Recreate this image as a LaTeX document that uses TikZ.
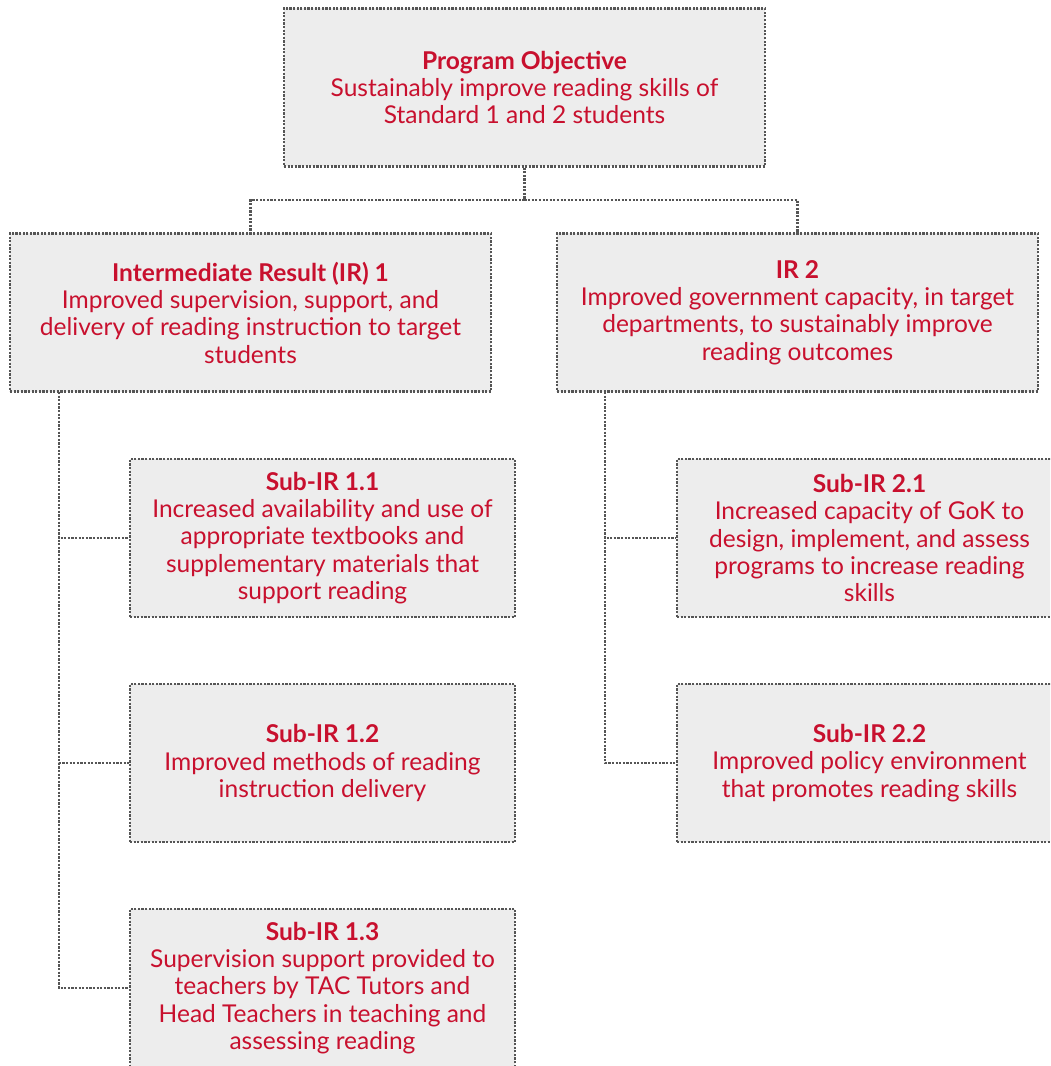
\documentclass[tikz,border=0pt]{standalone}
\usepackage{fontspec}
\setmainfont{Lato}
\usepackage{tikz}
\usetikzlibrary{positioning}
\definecolor{irred}{RGB}{200,16,46}
\definecolor{irfill}{RGB}{237,237,237}
\definecolor{irline}{RGB}{85,85,85}
\tikzset{%
    dots/.style={%
        draw=irline, line width=1.7pt, dash pattern=on 1.6pt off 1.1pt
    },
    irbox/.style={%
        dots, fill=irfill, text=irred, align=center, inner sep=0pt,
        font=\fontsize{18.4}{20.5}\selectfont,
        minimum width=360.75pt, minimum height=118.5pt
    },
    subbox/.style={%
        irbox, minimum width=288.75pt
    }
}

\begin{document}
\begin{tikzpicture}[x=0.75pt, y=-0.75pt]
    \useasboundingbox (0,0) rectangle (1050,1066);
    \clip (0,0) rectangle (1050,1066);
    \node[irbox] (po) at (524.5,87.5) {\textbf{Program Objective}\\Sustainably improve reading skills of\\Standard 1 and 2 students};
    \node[irbox] (ir1) at (250.5,312.5) {\textbf{Intermediate Result (IR) 1}\\Improved supervision, support, and\\delivery of reading instruction to target\\students};
    \node[irbox] (ir2) at (797.5,312.5) {\textbf{IR 2}\\Improved government capacity, in target\\departments, to sustainably improve\\reading outcomes};
    \node[subbox] (s11) at (322.5,538) {\textbf{Sub-IR 1.1}\\Increased availability and use of\\appropriate textbooks and\\supplementary materials that\\support reading};
    \node[subbox] (s12) at (322.5,763) {\textbf{Sub-IR 1.2}\\Improved methods of reading\\instruction delivery};
    \node[subbox] (s13) at (322.5,988) {\textbf{Sub-IR 1.3}\\Supervision support provided to\\teachers by TAC Tutors and\\Head Teachers in teaching and\\assessing reading};
    \node[subbox] (s21) at (869.5,538) {\textbf{Sub-IR 2.1}\\Increased capacity of GoK to\\design, implement, and assess\\programs to increase reading\\skills};
    \node[subbox] (s22) at (869.5,763) {\textbf{Sub-IR 2.2}\\Improved policy environment\\that promotes reading skills};
    \coordinate (split) at (524.5,200);
    \coordinate (left) at (59,392);
    \coordinate (right) at (605,392);
    \draw[dots]
        (po.south) -- (split)
        (split) -| (ir1.north)
        (split) -| (ir2.north)
        (left) |- (s11.west)
        (left) |- (s12.west)
        (left) |- (s13.west)
        (right) |- (s21.west)
        (right) |- (s22.west)
        ;
\end{tikzpicture}
\end{document}
